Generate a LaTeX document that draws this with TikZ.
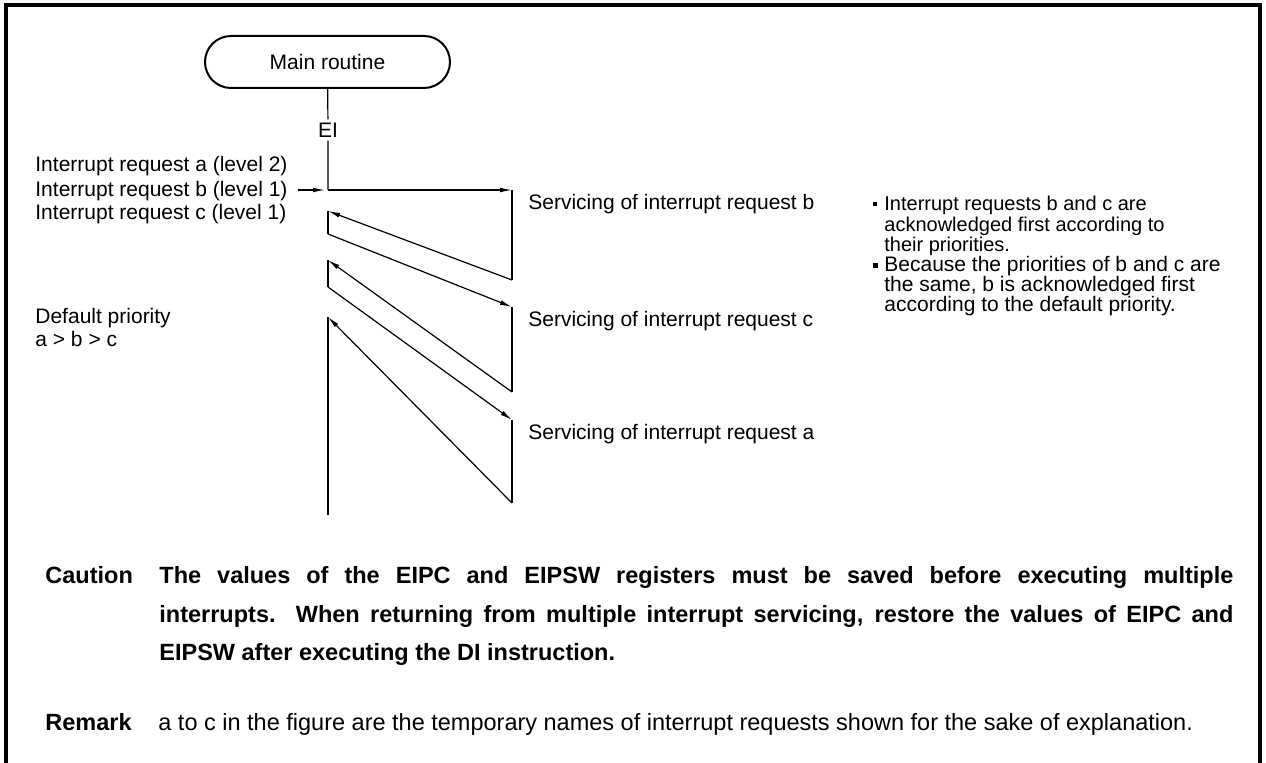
\documentclass[tikz,border=0pt]{standalone}
\usepackage{fontspec}
\setmainfont{Liberation Sans}
\usetikzlibrary{arrows.meta,positioning,calc}

\tikzset{
  flow/.style={line width=0.6pt},
  flowarrow/.style={flow, -{Latex[length=6pt,width=2.4pt]}},
  lbl/.style={anchor=base west, inner sep=0pt, font=\fontsize{10.5}{11.5}\selectfont},
  note/.style={anchor=base west, inner sep=0pt, align=left},
  bulletsq/.style={fill=black, inner sep=0pt, minimum size=#1},
  routine/.style={draw, line width=1pt, rounded corners=13pt, minimum width=122.5pt,
    minimum height=26pt, font=\fontsize{10.5}{12}\selectfont},
  capt/.style={anchor=base west, inner sep=0pt, font=\fontsize{11.75}{19.25}\selectfont\bfseries},
}

\begin{document}
\begin{tikzpicture}[x=0.5pt,y=-0.5pt]
    \useasboundingbox (0,0) rectangle (1266,763);
    % Frame
    \draw[line width=2pt] (5.5,763) -- (5.5,5.5) -- (1260,5.5) -- (1260,763);
    % Main routine
    \node[routine] (main) at (327.5,62) {Main routine};
    \node[lbl, anchor=center, inner sep=1.5pt] (ei) at (328,130) {EI};
    % Turning points of the flow
    \coordinate (req)   at (328,190);
    \coordinate (bTop)  at (512,190);
    \coordinate (bEnd)  at (512,280);
    \coordinate (retB)  at (328,211);
    \coordinate (callC) at (328,234);
    \coordinate (cTop)  at (512,307);
    \coordinate (cEnd)  at (512,392);
    \coordinate (retC)  at (328,260);
    \coordinate (callA) at (328,287);
    \coordinate (aTop)  at (512,420);
    \coordinate (aEnd)  at (512,503);
    \coordinate (retA)  at (328,317);
    \coordinate (mainEnd) at (328,515);
    \draw[flow] (main) -- (ei) -- (req);
    % Servicing b
    \draw[flowarrow] (req) -- (bTop);
    \draw[flow] (bTop) -- (bEnd);
    \draw[flowarrow] (bEnd) -- (retB);
    % Servicing c
    \draw[flow] (retB) -- (callC);
    \draw[flowarrow] (callC) -- (cTop);
    \draw[flow] (cTop) -- (cEnd);
    \draw[flowarrow] (cEnd) -- (retC);
    % Servicing a
    \draw[flow] (retC) -- (callA);
    \draw[flowarrow] (callA) -- (aTop);
    \draw[flow] (aTop) -- (aEnd);
    \draw[flowarrow] (aEnd) -- (retA);
    \draw[flow] (retA) -- (mainEnd);
    % Requests
    \node[lbl] (reqA) at (35,172) {Interrupt request a (level 2)};
    \node[lbl] (reqB) at (35,197) {Interrupt request b (level 1)};
    \node[lbl] (reqC) at (35,220) {Interrupt request c (level 1)};
    \draw[flowarrow] ([xshift=5pt]reqB.east |- req) -- ([xshift=-1.5pt]req);
    \node[lbl, align=left] (prio) at (35,347) {Default priority\\a > b > c};
    % Servicing labels
    \node[lbl] (servB) at (528,210) {Servicing of interrupt request b};
    \node[lbl] (servC) at (528,327) {Servicing of interrupt request c};
    \node[lbl] (servA) at (528,440) {Servicing of interrupt request a};
    % Notes (base = last line)
    \node[bulletsq=2pt] (bulA) at (875,204) {};
    \node[note, font=\fontsize{10}{10.4}\selectfont] (noteA) at (884,252)
      {Interrupt requests b and c are\\acknowledged first according to\\their priorities.};
    \node[bulletsq=2.5pt] (bulB) at (875,266) {};
    \node[note, font=\fontsize{10.5}{10.2}\selectfont] (noteB) at (884,312)
      {Because the priorities of b and c are\\the same, b is acknowledged first\\according to the default priority.};
    % Caution and remark
    \node[capt] (cautLbl) at (45,584) {Caution};
    \node[capt, text width=537pt, align=justify] (cautTxt) at (159,584)
      {The values of the EIPC and EIPSW registers must be saved before executing multiple\linebreak
       interrupts.  When returning from multiple interrupt servicing, restore the values of EIPC and\linebreak
       EIPSW after executing the DI instruction.};
    \node[capt] (remLbl) at (45,731) {Remark};
    \node[capt, font=\fontsize{11.75}{14}\selectfont] (remTxt) at (158,731)
      {a to c in the figure are the temporary names of interrupt requests shown for the sake of explanation.};
  \end{tikzpicture}
\end{document}
